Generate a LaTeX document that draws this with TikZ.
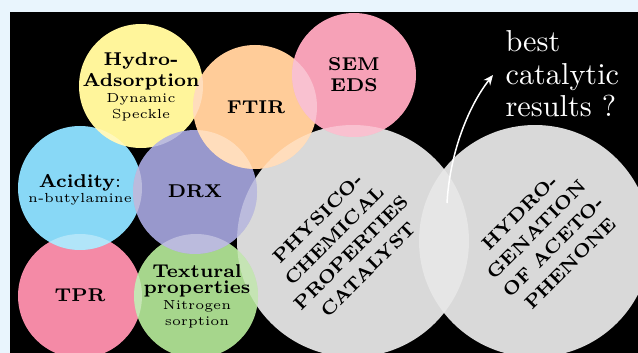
\documentclass[tikz,border=0pt]{standalone}
\usetikzlibrary{calc,arrows.meta}

\definecolor{frame}{HTML}{E9F5FD}
\definecolor{hydc}{HTML}{FFF59B}
\definecolor{ftirc}{HTML}{FFCC99}
\definecolor{semc}{HTML}{F6A1B7}
\definecolor{acidc}{HTML}{88D8F6}
\definecolor{drxc}{HTML}{9898CC}
\definecolor{tprc}{HTML}{F48AA6}
\definecolor{texc}{HTML}{A6D68C}
\definecolor{bigc}{HTML}{D9D9D9}

\tikzset{
  bubble/.style={circle, inner sep=0pt, outer sep=0pt, minimum size=43.4pt},
  bigbubble/.style={circle, inner sep=0pt, outer sep=0pt, minimum size=81.2pt, fill=bigc},
  head/.style={align=center, inner sep=0pt, font=\bfseries\fontsize{6.5}{7.35}\selectfont},
  diag/.style={align=center, inner sep=0pt, rotate=45, font=\bfseries\fontsize{6.5}{8.4}\selectfont},
}
\newcommand{\sub}[1]{{\mdseries\fontsize{4.6}{5.6}\selectfont #1}}
% lighter where two bubbles overlap
\newcommand{\lens}[2]{%
  \begin{scope}
    \clip let \p1=($(#1.east)-(#1.center)$) in (#1.center) circle[radius=\x1];
    \fill[white, fill opacity=.35] let \p1=($(#2.east)-(#2.center)$) in (#2.center) circle[radius=\x1];
  \end{scope}}

\begin{document}
\begin{tikzpicture}[x=0.35pt, y=-0.35pt]
\useasboundingbox (0,0) rectangle (638,353);
\fill[frame] (0,0) rectangle (638,353);
\fill[black] (10,12) rectangle (638,353);

\node[bigbubble] (phys) at (353,241) {};
\node[bigbubble] (hydg) at (535,241) {};
\node[bubble, fill=tprc] (tpr) at (80,296) {};
\node[bubble, fill=texc] (tex) at (196,296) {};
\node[bubble, fill=acidc] (acid) at (80,188) {};
\node[bubble, fill=hydc] (hyd) at (141,86) {};
\node[bubble, fill=drxc] (drx) at (195,192) {};
\node[bubble, fill=ftirc] (ftir) at (255,107) {};
\node[bubble, fill=semc] (sem) at (354,75) {};

\lens{phys}{hydg}
\lens{phys}{tex}
\lens{phys}{drx}
\lens{phys}{ftir}
\lens{phys}{sem}
\lens{tpr}{tex}
\lens{tpr}{acid}
\lens{tex}{drx}
\lens{acid}{hyd}
\lens{acid}{drx}
\lens{hyd}{drx}
\lens{hyd}{ftir}
\lens{drx}{ftir}
\lens{ftir}{sem}

\node[head] (hyd-t) at (141,87) {Hydro-\\Adsorption\\[-1.75pt]\sub{Dynamic}\\[-1.75pt]\sub{Speckle}};
\node[head] (ftir-t) at (256,107) {FTIR};
\node[head] (sem-t) at (354,75) {SEM\\EDS};
\node[head] (acid-t) at (80,190) {Acidity{\mdseries:}\\[-2.1pt]\sub{n-butylamine}};
\node[head] (drx-t) at (195,191) {DRX};
\node[head] (tpr-t) at (80,295) {TPR};
\node[head] (tex-t) at (197,296) {Textural\\[-1.75pt]properties\\[-1.75pt]\sub{Nitrogen}\\[-1.75pt]\sub{sorption}};
\node[diag] (phys-t) at (343,244) {PHYSICO-\\CHEMICAL\\PROPERTIES\\CATALYST};
\node[diag] (hydg-t) at (545,238) {HYDRO-\\GENATION\\OF ACETO-\\PHENONE};

\node[anchor=west, align=left, inner sep=0pt, text=white, font=\fontsize{10.6}{11.4}\selectfont] (res) at (505,74) {best\\catalytic\\results ?};
\coordinate (from) at (447,203);
\coordinate (tip) at (493,75);
\draw[white, line width=0.525pt, -{Stealth[length=3.5pt, width=3pt]}] (from) .. controls (450,150) and (470,104) .. (tip);
\end{tikzpicture}
\end{document}
